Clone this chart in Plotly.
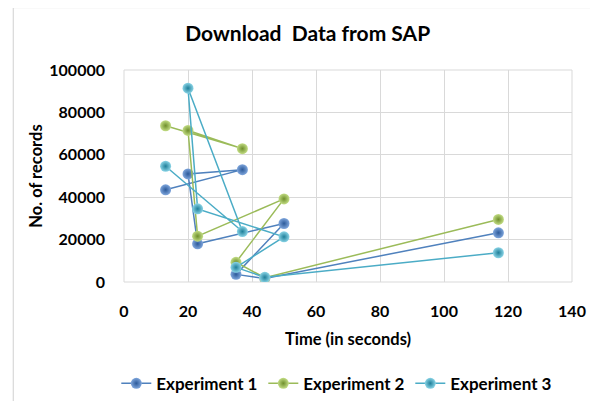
import plotly.graph_objects as go

time_s = [13, 37, 20, 23, 50, 35, 44, 117]
exp1 = [43500, 53000, 51000, 18000, 27600, 3600, 1700, 23200]
exp2 = [73700, 62900, 71500, 21600, 39200, 9300, 2000, 29500]
exp3 = [54600, 23800, 91400, 34500, 21300, 6900, 2200, 13800]

series = [
    ("Experiment 1", exp1, "#4F81BD", "#7fa6dc", "#2c5a9a"),
    ("Experiment 2", exp2, "#9BBB59", "#c3dd85", "#6f8f2c"),
    ("Experiment 3", exp3, "#4BACC6", "#8ad4e6", "#1f7f99"),
]

FONT = "Lato"
fig = go.Figure()
for name, vals, lc, mc, gc in series:
    fig.add_trace(go.Scatter(
        x=time_s, y=vals, mode="lines+markers", name=name,
        line=dict(color=lc, width=1.5),
        marker=dict(size=11, color=mc, gradient=dict(type="radial", color=gc),
                    line=dict(width=0)),
    ))

# page body has an 8px margin, so the figure is drawn 8px in from the corner
fig.update_layout(
    width=590, height=393,
    margin=dict(l=115.5, r=25.5, t=61.5, b=119, autoexpand=False),
    paper_bgcolor="white", plot_bgcolor="white",
    font=dict(family=FONT, size=16, color="black", weight="bold"),
    title=dict(text="Download  Data from SAP", x=0.508, xanchor="center",
               y=0.935, yanchor="middle",
               font=dict(family=FONT, size=21, color="black", weight="bold")),
    showlegend=True,
    legend=dict(orientation="h", x=0.475, xanchor="center", y=-0.48, yanchor="middle",
                font=dict(family=FONT, size=17, color="black", weight="bold"),
                itemwidth=30, entrywidth=102, entrywidthmode="pixels"),
    xaxis=dict(range=[0, 140], dtick=20, showgrid=True, gridcolor="#d9d9d9",
               zeroline=False, showline=False, ticks="", ticklabelstandoff=18,
               title=dict(text="Time (in seconds)", standoff=14,
                          font=dict(family=FONT, size=16.5, weight="bold"))),
    yaxis=dict(range=[0, 100000], dtick=20000, showgrid=True, gridcolor="#d9d9d9",
               zeroline=False, showline=False, ticks="", tickformat="d",
               ticklabelstandoff=18,
               title=dict(text="No. of records", standoff=2,
                          font=dict(family=FONT, size=16.5, weight="bold"))),
    shapes=[
        dict(type="rect", xref="paper", yref="paper", x0=0, x1=1, y0=0, y1=1,
             line=dict(color="#d9d9d9", width=1), layer="below"),
        dict(type="rect", xref="paper", yref="paper",
             x0=(12.5 - 123.5) / 449, x1=(595 - 123.5) / 449,
             y0=(282 - 405) / 212.5, y1=(282 - 7) / 212.5,
             line=dict(color="#d0d0d0", width=1)),
    ],
)

fig.write_html("out.html")
